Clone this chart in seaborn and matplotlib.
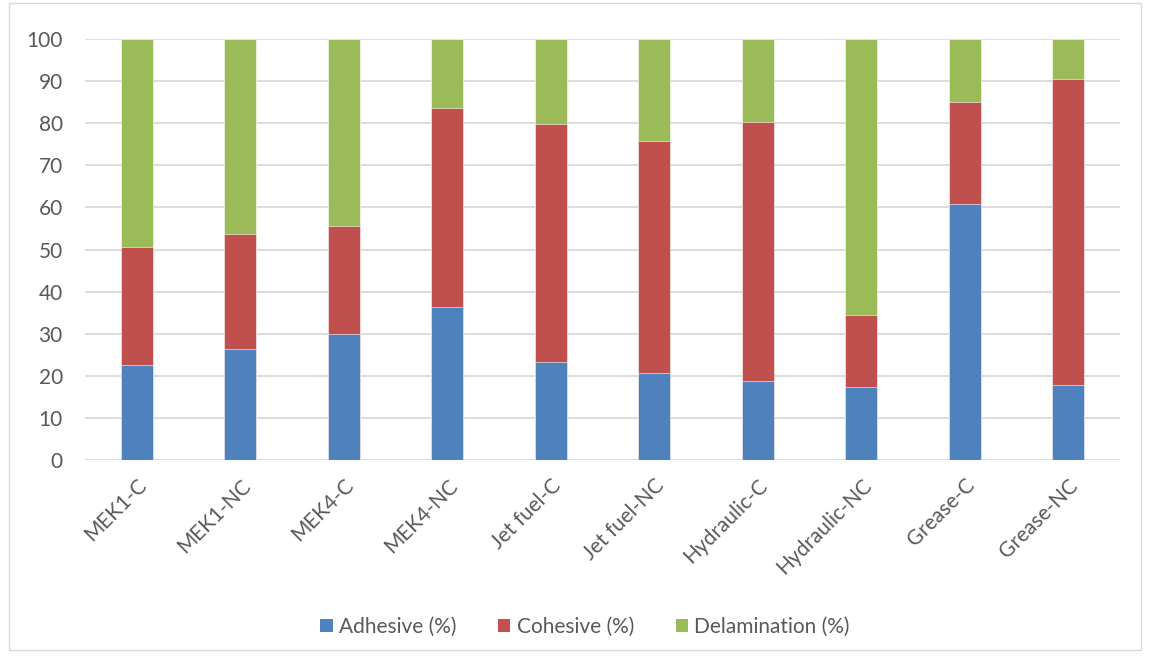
import matplotlib
matplotlib.use("Agg")
import matplotlib.pyplot as plt
import seaborn as sns
import pandas as pd
from matplotlib.patches import Rectangle, Patch

# Failure mode shares per conditioning case
categories = ["MEK1-C", "MEK1-NC", "MEK4-C", "MEK4-NC", "Jet fuel-C", "Jet fuel-NC",
              "Hydraulic-C", "Hydraulic-NC", "Grease-C", "Grease-NC"]
adhesive = [22.5, 26.3, 30.0, 36.3, 23.2, 20.6, 18.8, 17.4, 60.9, 17.7]
cohesive = [28.1, 27.3, 25.7, 47.2, 56.5, 55.1, 61.6, 17.1, 24.1, 72.9]
delamination = [49.4, 46.4, 44.3, 16.5, 20.3, 24.3, 19.6, 65.5, 15.0, 9.4]
series_names = ["Adhesive (%)", "Cohesive (%)", "Delamination (%)"]
colors = ["#4F81BD", "#C0504D", "#9BBB59"]
y_ticks = list(range(0, 101, 10))

df = pd.DataFrame({"case": categories, "adh": adhesive, "coh": cohesive, "dela": delamination})
df["lvl1"] = df["adh"]
df["lvl2"] = df["adh"] + df["coh"]
df["lvl3"] = df["lvl2"] + df["dela"]

sns.set_theme(style="white")
plt.rcParams["font.family"] = ["Lato", "DejaVu Sans"]

fig = plt.figure(figsize=(11.5, 6.58), dpi=100)
ax = fig.add_axes([85 / 1150, 1 - 460 / 658, (1120 - 85) / 1150, (460 - 39) / 658])

# Stack by drawing cumulative totals from the top segment down
for col, color in zip(["lvl3", "lvl2", "lvl1"], colors[::-1]):
    sns.barplot(data=df, x="case", y=col, color=color, width=0.31, ax=ax,
                saturation=1, edgecolor="white", linewidth=0.4, zorder=3)

ax.set_ylim(0, 100)
ax.set_xlim(-0.5, len(categories) - 0.5)
ax.set_yticks(y_ticks)
ax.set_yticklabels([str(t) for t in y_ticks])
ax.yaxis.grid(True, color="#D9D9D9", linewidth=1.3, zorder=0)
ax.set_axisbelow(True)
for s in ax.spines.values():
    s.set_visible(False)
ax.axhline(0, color="#D9D9D9", linewidth=1.3, zorder=1)
ax.set_xlabel("")
ax.set_ylabel("")
ax.tick_params(axis="both", length=0, colors="#595959", labelsize=15)
ax.tick_params(axis="y", pad=16)
ax.tick_params(axis="x", pad=11)
ax.set_xticks(range(len(categories)))
ax.set_xticklabels(categories, rotation=45, ha="right", rotation_mode="anchor")

handles = [Patch(facecolor=c, edgecolor="none") for c in colors]
fig.legend(handles, series_names, loc="center", bbox_to_anchor=(585 / 1150, 1 - 627 / 658),
           ncol=3, frameon=False, fontsize=15, handlelength=0.6, handleheight=0.6,
           handletextpad=0.3, columnspacing=2.0, labelcolor="#595959")

fig.patches.append(Rectangle((9 / 1150, 1 - 650 / 658), 1132 / 1150, 647 / 658,
                             transform=fig.transFigure, fill=False,
                             edgecolor="#D9D9D9", linewidth=1))

fig.savefig("out.png", dpi=100)
